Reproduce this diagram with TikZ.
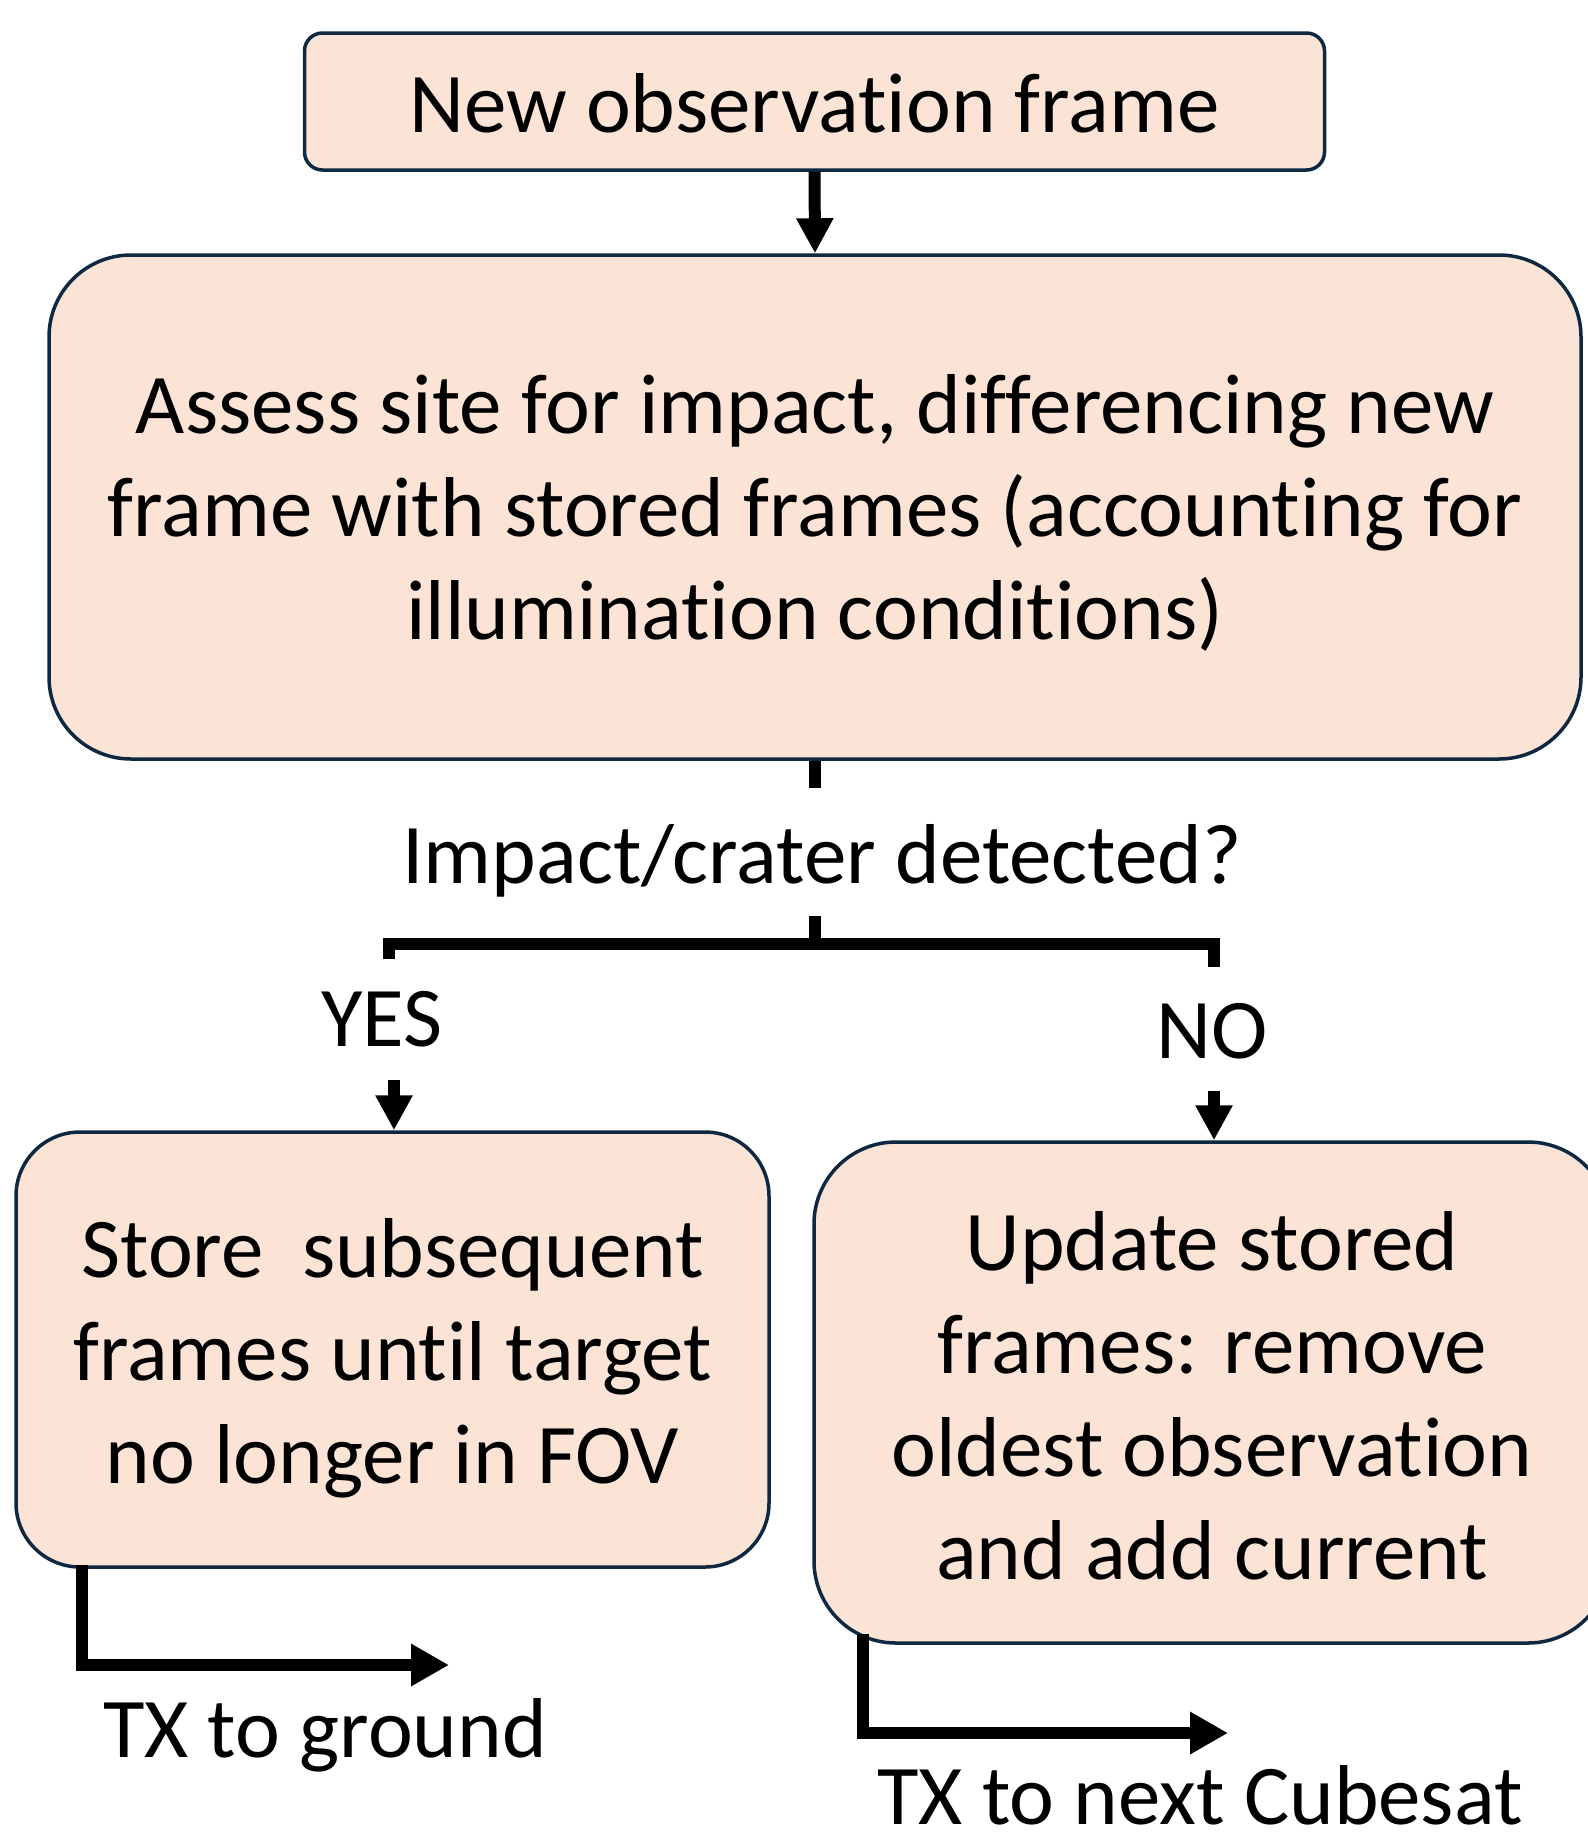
\documentclass[tikz,border=0pt]{standalone}
\usepackage{fontspec}
\setmainfont[Ligatures=NoCommon]{Carlito}
\usetikzlibrary{arrows.meta}
\definecolor{boxfill}{HTML}{FBE3D6}
\definecolor{boxline}{HTML}{0E2841}
\begin{document}
\begin{tikzpicture}[x=0.5pt,y=-0.5pt,
  txt/.style={font=\fontsize{42.5}{51.5}\selectfont},
  box/.style={draw=boxline, fill=boxfill, line width=1.75pt, inner sep=0pt},
  lbl/.style={txt, inner sep=0pt, align=center},
  conn/.style={line width=6pt, draw=black},
  arrA/.style={line width=6pt, -{Triangle[length=17.5pt,width=17.5pt]}},
  arrC/.style={line width=6pt, -{Triangle[length=19pt,width=20pt]}},
]
\useasboundingbox (0,0) rectangle (1588,1836);
\fill[white] (0,0) rectangle (1588,1836);

% boxes
\node[box, minimum width=510pt, minimum height=68.5pt, rounded corners=9pt] (top) at (814.5,101.5) {};
\node[box, minimum width=766pt, minimum height=252pt, rounded corners=41pt] (big) at (815,507) {};
\node[box, minimum width=376.5pt, minimum height=217.5pt, rounded corners=32pt] (left) at (392.5,1349.5) {};
\node[box, minimum width=398pt, minimum height=250.5pt, rounded corners=41pt] (right) at (1212,1392.5) {};

% texts
\node[lbl] (toptxt) at ([yshift=-1pt]top.center) {New observation frame};
\node[lbl] (bigtxt) at ([yshift=-3pt]big.center)
  {Assess site for impact, differencing new\\frame with stored frames (accounting for\\illumination conditions)};
\node[lbl] (lefttxt) at ([yshift=-4.5pt]left.center)
  {Store~~subsequent\\frames until target\\no longer in FOV};
\node[lbl] (righttxt) at ([yshift=-1.5pt]right.center)
  {Update stored\\frames: remove\\oldest observation\\and add current};
\node[lbl] (q) at (822,861) {Impact/crater detected?};
\node[lbl] (yes) at (382,1019) {YES};
\node[lbl] (no) at (1212,1031) {NO};
\node[lbl] (tg) at (325,1735) {TX to ground};
\node[lbl] (tc) at (1200,1795) {TX to next Cubesat};

% connectors
\draw[arrA] (top.south) -- (big.north);

\coordinate (t1) at (815,788);
\draw[conn] (big.south) -- (t1);

\coordinate (bt) at (815,916);
\coordinate (bm) at (815,944);
\coordinate (bl) at (389,944);
\coordinate (bld) at (389,959);
\coordinate (br) at (1214,944);
\coordinate (brd) at (1214,967);
\draw[conn] (bt) -- (bm);
\draw[conn] (bld) -- (bl) -- (br) -- (brd);

\coordinate (ya) at (394,1080);
\draw[arrA] (ya) -- (ya |- left.north);
\coordinate (na) at (1214,1091);
\draw[arrA] (na) -- (na |- right.north);

\coordinate (g0) at (82,1565);
\coordinate (g1) at (82,1665);
\coordinate (g2) at (449,1665);
\draw[arrC] (g0) -- (g1) -- (g2);

\coordinate (c0) at (863,1634);
\coordinate (c1) at (863,1733);
\coordinate (c2) at (1228,1733);
\draw[arrC] (c0) -- (c1) -- (c2);
\end{tikzpicture}
\end{document}
